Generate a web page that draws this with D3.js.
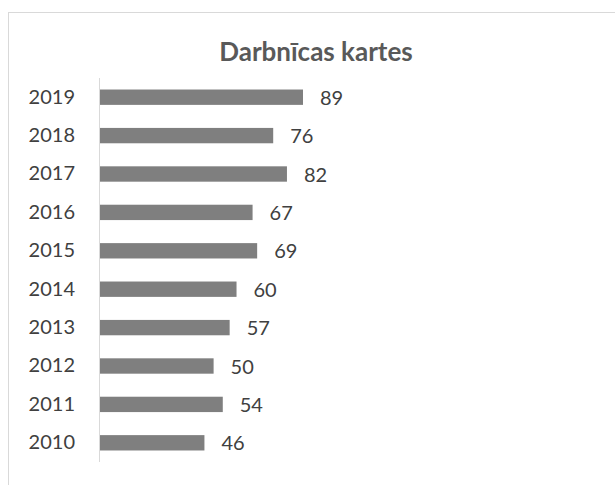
<!DOCTYPE html>
<html><head><meta charset="utf-8">
<script src="https://cdn.jsdelivr.net/npm/d3@7"></script>
<style>body{margin:0;background:#fff}svg{display:block}</style>
</head><body>
<script>
const years = ["2019","2018","2017","2016","2015","2014","2013","2012","2011","2010"];
const values = [89,76,82,67,69,60,57,50,54,46];
const title = "Darbnīcas kartes";

const W = 615, H = 485;
const svg = d3.select("body").append("svg").attr("width", W).attr("height", H);
svg.append("rect").attr("x",8.5).attr("y",12.5).attr("width",W).attr("height",H)
  .attr("fill","#fff").attr("stroke","#d9d9d9");

const x0 = 99, y0 = 78, y1 = 462;
const x = d3.scaleLinear().domain([0,89]).range([x0, 303]);
const y = d3.scaleBand().domain(years).range([y0, y1]).paddingInner(0.6).paddingOuter(0.3);

svg.append("text").attr("x",316).attr("y",61).attr("text-anchor","middle")
  .attr("font-family","Lato").attr("font-weight","bold").attr("font-size",26)
  .attr("fill","#595959").text(title);

svg.selectAll("rect.bar").data(values).join("rect").attr("class","bar")
  .attr("x", x(0)).attr("y",(d,i)=>y(years[i]))
  .attr("width", d=>x(d)-x(0)).attr("height", y.bandwidth())
  .attr("fill","#7f7f7f");

const yAxis = d3.axisLeft(y).tickSize(0).tickPadding(24);
const g = svg.append("g").attr("transform",`translate(${x0},0)`).call(yAxis);
g.select(".domain").attr("stroke","#d9d9d9").attr("d",`M0.5,${y0}V${y1}`);
g.selectAll("text").attr("font-family","Lato").attr("font-size",20).attr("fill","#404040");

svg.selectAll("text.val").data(values).join("text").attr("class","val")
  .attr("x", d=>x(d)+17).attr("y",(d,i)=>y(years[i])+y.bandwidth()/2)
  .attr("dy","0.38em").attr("font-family","Lato").attr("font-size",20).attr("fill","#404040")
  .text(d=>d);
</script>
</body></html>
